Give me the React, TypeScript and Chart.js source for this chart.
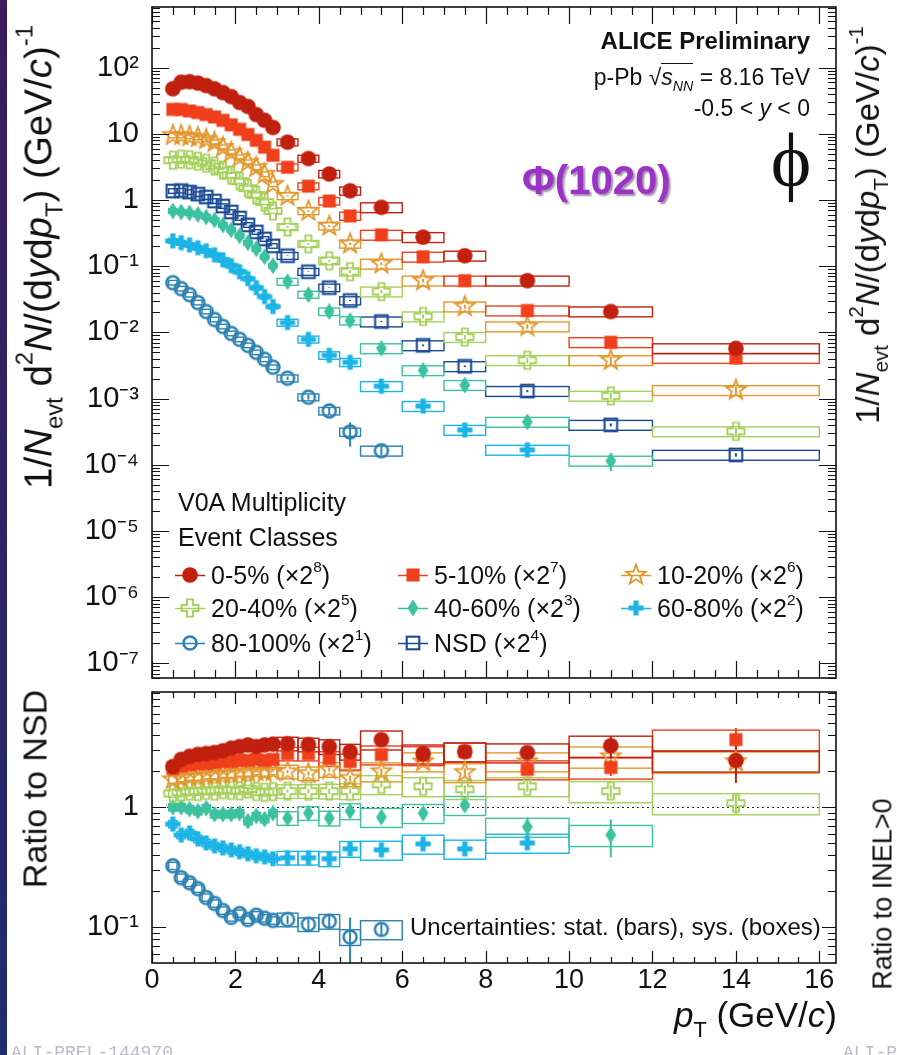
import React, { useEffect, useRef } from "react";
import { Chart, registerables } from "chart.js";

Chart.register(...registerables);

// ---------------- data ----------------
const PT = [0.5, 0.7, 0.9, 1.1, 1.3, 1.5, 1.7, 1.9, 2.1, 2.3, 2.5, 2.7, 2.9, 3.25, 3.75, 4.25, 4.75, 5.5, 6.5, 7.5, 9, 11, 14];
const PT_LO = [0.4, 0.6, 0.8, 1.0, 1.2, 1.4, 1.6, 1.8, 2.0, 2.2, 2.4, 2.6, 2.8, 3.0, 3.5, 4.0, 4.5, 5, 6, 7, 8, 10, 12];
const PT_HI = [0.6, 0.8, 1.0, 1.2, 1.4, 1.6, 1.8, 2.0, 2.2, 2.4, 2.6, 2.8, 3.0, 3.5, 4.0, 4.5, 5.0, 6, 7, 8, 10, 12, 16];

const X_TICKS = [0, 2, 4, 6, 8, 10, 12, 14, 16];
const Y_TICKS_TOP = [1e-7, 1e-6, 1e-5, 1e-4, 1e-3, 1e-2, 1e-1, 1, 10, 100];
const Y_LABELS_TOP = ["10⁻⁷", "10⁻⁶", "10⁻⁵", "10⁻⁴", "10⁻³", "10⁻²", "10⁻¹", "1", "10", "10²"];
const Y_TICKS_RATIO = [0.1, 1];
const Y_LABELS_RATIO = ["10⁻¹", "1"];

const CLASSES = ["0-5%", "5-10%", "10-20%", "20-40%", "40-60%", "60-80%", "80-100%", "NSD"];
const SCALE_POW = ["8", "7", "6", "5", "3", "2", "1", "4"];

// spectra (already multiplied by the scale factors)
const Y_0_5 = [48, 60.5, 61.5, 58.5, 53.6, 48, 42, 36.6, 29.8, 26, 19.6, 16, 12.5, 7.5, 4.24, 2.48, 1.38, 0.776, 0.275, 0.144, 0.0605, 0.0207, 0.00575];
const Y_5_10 = [23.4, 23.4, 22.2, 21, 19.6, 18, 16, 13.7, 11.7, 9.8, 8.0, 6.3, 4.75, 3.13, 1.62, 0.966, 0.575, 0.298, 0.139, 0.0605, 0.0214, 0.0071, 0.0041];
const Y_10_20 = [9.5, 9.5, 9.17, 8.86, 8.27, 7.45, 6.27, 5.27, 4.43, 3.73, 3.13, 2.46, 1.74, 1.15, 0.684, 0.406, 0.218, 0.109, 0.0605, 0.0246, 0.0123, 0.0038, 0.00134];
const Y_20_40 = [4.0, 4.14, 4.06, 3.86, 3.6, 3.25, 2.83, 2.38, 1.93, 1.51, 1.19, 0.933, 0.684, 0.393, 0.218, 0.121, 0.0827, 0.0414, 0.0174, 0.0085, 0.0038, 0.0011, 0.00032];
const Y_40_60 = [0.684, 0.66, 0.638, 0.605, 0.555, 0.5, 0.421, 0.354, 0.288, 0.226, 0.183, 0.139, 0.102, 0.0585, 0.0373, 0.0207, 0.0151, 0.00575, 0.00268, 0.0016, 0.000444, 0.000115, null];
const Y_60_80 = [0.242, 0.226, 0.21, 0.19, 0.171, 0.149, 0.125, 0.102, 0.0827, 0.0649, 0.0475, 0.0348, 0.0246, 0.0141, 0.00785, 0.00451, 0.00354, 0.00154, 0.00077, 0.000336, 0.000168, null, null];
const Y_80_100 = [0.0565, 0.0459, 0.0373, 0.0283, 0.0207, 0.0157, 0.0123, 0.00966, 0.00785, 0.00638, 0.005, 0.00393, 0.00298, 0.00203, 0.00105, 0.00065, 0.000313, 0.000163, null, null, null, null, null];
const Y_NSD = [1.37, 1.39, 1.32, 1.23, 1.11, 0.966, 0.812, 0.66, 0.536, 0.421, 0.33, 0.259, 0.203, 0.144, 0.0827, 0.0475, 0.0303, 0.0146, 0.00638, 0.00308, 0.0013, 0.0004, 0.000141];

// relative statistical uncertainties of the spectra
const ST_0_5 = [0, 0, 0, 0, 0, 0, 0, 0, 0, 0, 0, 0, 0, 0.02, 0.02, 0.03, 0.03, 0.04, 0.05, 0.06, 0.08, 0.1, 0.15];
const ST_5_10 = [0, 0, 0, 0, 0, 0, 0, 0, 0, 0, 0, 0, 0, 0.02, 0.02, 0.03, 0.03, 0.04, 0.05, 0.06, 0.08, 0.12, 0.2];
const ST_10_20 = [0, 0, 0, 0, 0, 0, 0, 0, 0, 0, 0, 0, 0, 0.02, 0.03, 0.03, 0.04, 0.05, 0.06, 0.07, 0.08, 0.12, 0.12];
const ST_20_40 = [0, 0, 0, 0, 0, 0, 0, 0, 0, 0, 0, 0, 0, 0.03, 0.03, 0.04, 0.05, 0.06, 0.07, 0.08, 0.1, 0.12, 0.15];
const ST_40_60 = [0, 0, 0, 0, 0, 0, 0, 0, 0, 0, 0, 0, 0, 0.04, 0.05, 0.06, 0.08, 0.08, 0.1, 0.1, 0.12, 0.3, 0];
const ST_60_80 = [0, 0, 0, 0, 0, 0, 0, 0, 0, 0, 0, 0, 0, 0.05, 0.06, 0.08, 0.1, 0.1, 0.12, 0.12, 0.12, 0, 0];
const ST_80_100 = [0, 0, 0, 0, 0, 0, 0, 0, 0, 0, 0, 0, 0, 0.06, 0.08, 0.12, 0.4, 0.15, 0, 0, 0, 0, 0];
const ST_NSD = [0, 0, 0, 0, 0, 0, 0, 0, 0, 0, 0, 0, 0, 0.01, 0.01, 0.01, 0.02, 0.02, 0.03, 0.03, 0.04, 0.05, 0.06];

// relative systematic uncertainties (boxes)
const SYS_SPECTRA = [0.08, 0.08, 0.08, 0.08, 0.08, 0.08, 0.08, 0.08, 0.08, 0.08, 0.08, 0.08, 0.08, 0.12, 0.12, 0.13, 0.14, 0.17, 0.17, 0.17, 0.17, 0.17, 0.17];
const SYS_RATIO = [0.07, 0.07, 0.07, 0.07, 0.07, 0.07, 0.07, 0.07, 0.07, 0.07, 0.07, 0.07, 0.07, 0.13, 0.13, 0.14, 0.15, 0.18, 0.18, 0.18, 0.18, 0.2, 0.2];

// ratios to NSD
const R_0_5 = [2.18, 2.5, 2.65, 2.75, 2.8, 2.85, 2.95, 3.1, 3.2, 3.3, 3.2, 3.3, 3.35, 3.38, 3.32, 3.19, 2.9, 3.65, 2.79, 2.9, 2.85, 3.25, 2.45];
const R_5_10 = [2.1, 2.2, 2.25, 2.3, 2.3, 2.35, 2.4, 2.4, 2.45, 2.45, 2.5, 2.45, 2.5, 2.79, 2.79, 2.54, 2.4, 2.74, 2.7, 2.9, 2.06, 2.14, 3.65];
const R_10_20 = [1.7, 1.75, 1.8, 1.8, 1.85, 1.85, 1.9, 1.9, 1.95, 1.95, 2.0, 1.95, 2.0, 1.98, 1.91, 2.06, 1.74, 1.98, 2.4, 1.95, 2.4, 2.64, 2.4];
const R_20_40 = [1.3, 1.33, 1.36, 1.35, 1.38, 1.36, 1.4, 1.38, 1.37, 1.42, 1.35, 1.33, 1.35, 1.36, 1.36, 1.36, 1.36, 1.55, 1.49, 1.41, 1.49, 1.36, 1.08];
const R_40_60 = [1.0, 1.0, 0.963, 0.927, 0.981, 0.875, 0.875, 0.875, 0.892, 0.766, 0.843, 0.796, 0.892, 0.811, 0.892, 0.811, 0.927, 0.827, 0.892, 1.04, 0.684, 0.587, null];
const R_60_80 = [0.723, 0.587, 0.61, 0.544, 0.504, 0.476, 0.458, 0.441, 0.425, 0.409, 0.394, 0.386, 0.372, 0.379, 0.379, 0.372, 0.45, 0.441, 0.495, 0.45, 0.504, null, null];
const R_80_100 = [0.325, 0.259, 0.235, 0.21, 0.177, 0.158, 0.138, 0.121, 0.13, 0.116, 0.126, 0.119, 0.114, 0.116, 0.106, 0.112, 0.083, 0.096, null, null, null, null, null];

const RS_0_5 = [0, 0, 0, 0, 0, 0, 0, 0, 0, 0, 0, 0, 0, 0.03, 0.03, 0.04, 0.05, 0.05, 0.06, 0.07, 0.08, 0.2, 0.35];
const RS_5_10 = [0, 0, 0, 0, 0, 0, 0, 0, 0, 0, 0, 0, 0, 0.03, 0.03, 0.04, 0.05, 0.05, 0.06, 0.07, 0.1, 0.15, 0.25];
const RS_10_20 = [0, 0, 0, 0, 0, 0, 0, 0, 0, 0, 0, 0, 0, 0.03, 0.04, 0.04, 0.05, 0.06, 0.07, 0.08, 0.1, 0.15, 0.25];
const RS_20_40 = [0, 0, 0, 0, 0, 0, 0, 0, 0, 0, 0, 0, 0, 0.03, 0.04, 0.05, 0.05, 0.06, 0.07, 0.08, 0.1, 0.12, 0.2];
const RS_40_60 = [0, 0, 0, 0, 0, 0, 0, 0, 0, 0, 0, 0, 0, 0.04, 0.05, 0.06, 0.07, 0.08, 0.09, 0.08, 0.2, 0.35, 0];
const RS_60_80 = [0, 0, 0, 0, 0, 0, 0, 0, 0, 0, 0, 0, 0, 0.05, 0.06, 0.07, 0.08, 0.09, 0.1, 0.1, 0.1, 0, 0];
const RS_80_100 = [0, 0, 0, 0, 0, 0, 0, 0, 0, 0, 0, 0, 0, 0.08, 0.1, 0.12, 0.45, 0.12, 0, 0, 0, 0, 0];

const SPECTRA = [Y_0_5, Y_5_10, Y_10_20, Y_20_40, Y_40_60, Y_60_80, Y_80_100, Y_NSD];
const SPECTRA_STAT = [ST_0_5, ST_5_10, ST_10_20, ST_20_40, ST_40_60, ST_60_80, ST_80_100, ST_NSD];
const RATIOS = [R_0_5, R_5_10, R_10_20, R_20_40, R_40_60, R_60_80, R_80_100];
const RATIOS_STAT = [RS_0_5, RS_5_10, RS_10_20, RS_20_40, RS_40_60, RS_60_80, RS_80_100];

// ---------------- styles / layout ----------------
const COLORS = ["#c1200e", "#ef3f1b", "#e2972c", "#a6d05c", "#3cc2a0", "#1cb4e6", "#2c82b0", "#1b4a95"];
const MARKERS = ["circle", "square", "star", "openCross", "diamond", "plus", "openCircle", "openSquare"];

const X_MIN = 0, X_MAX = 16.4;
const TOP_MIN = 6.17e-8, TOP_MAX = 826;
const RATIO_MIN = 0.0504, RATIO_MAX = 9.1;
const FONT = '"Liberation Sans", Arial, Helvetica, sans-serif';
const LEG_X = [190, 413, 636];
const LEG_Y = [575, 608, 643];

function makeMarker(kind: string, color: string): HTMLCanvasElement {
  const S = 28;
  const c = document.createElement("canvas");
  c.width = S;
  c.height = S;
  const g = c.getContext("2d")!;
  g.translate(S / 2, S / 2);
  g.fillStyle = color;
  g.strokeStyle = color;
  g.lineJoin = "miter";
  const poly = (pts: number[][]) => {
    g.beginPath();
    pts.forEach((p, i) => (i === 0 ? g.moveTo(p[0], p[1]) : g.lineTo(p[0], p[1])));
    g.closePath();
  };
  const plusPts = (a: number, L: number) => [
    [-a, -L], [a, -L], [a, -a], [L, -a], [L, a], [a, a], [a, L], [-a, L], [-a, a], [-L, a], [-L, -a], [-a, -a],
  ];
  if (kind === "circle") {
    g.beginPath(); g.arc(0, 0, 7.8, 0, Math.PI * 2); g.fill();
  } else if (kind === "square") {
    g.fillRect(-6.5, -6.5, 13, 13);
  } else if (kind === "star") {
    const pts: number[][] = [];
    for (let k = 0; k < 10; k++) {
      const r = k % 2 === 0 ? 10.3 : 4.3;
      const a = -Math.PI / 2 + (k * Math.PI) / 5;
      pts.push([r * Math.cos(a), r * Math.sin(a)]);
    }
    poly(pts); g.lineWidth = 1.8; g.stroke();
  } else if (kind === "openCross") {
    poly(plusPts(3, 8.6)); g.lineWidth = 1.9; g.stroke();
  } else if (kind === "diamond") {
    poly([[0, -8.6], [5.4, 0], [0, 8.6], [-5.4, 0]]); g.fill();
  } else if (kind === "plus") {
    poly(plusPts(2.6, 7.6)); g.fill();
  } else if (kind === "openCircle") {
    g.beginPath(); g.arc(0, 0, 6.5, 0, Math.PI * 2); g.lineWidth = 2.5; g.stroke();
  } else if (kind === "openSquare") {
    g.lineWidth = 2.1; g.strokeRect(-6.3, -6.3, 12.6, 12.6);
  }
  return c;
}

function drawUncertainties(chart: any, series: any[], stats: any[], sys: number[]) {
  const { ctx, chartArea: a } = chart;
  const xs = chart.scales.x, ys = chart.scales.y;
  ctx.save();
  ctx.beginPath();
  ctx.rect(a.left, a.top, a.right - a.left, a.bottom - a.top);
  ctx.clip();
  for (let s = series.length - 1; s >= 0; s--) {
    const vals = series[s];
    ctx.strokeStyle = COLORS[s];
    for (let i = 0; i < PT.length; i++) {
      const v = vals[i];
      if (v == null) continue;
      const x1 = xs.getPixelForValue(PT_LO[i]);
      const x2 = xs.getPixelForValue(PT_HI[i]);
      const y1 = ys.getPixelForValue(v * (1 + sys[i]));
      const y2 = ys.getPixelForValue(v * (1 - sys[i]));
      ctx.lineWidth = 1.4;
      ctx.strokeRect(x1, y1, x2 - x1, y2 - y1);
      const st = stats[s][i];
      if (st > 0) {
        const px = xs.getPixelForValue(PT[i]);
        ctx.lineWidth = 2;
        ctx.beginPath();
        ctx.moveTo(px, ys.getPixelForValue(v * (1 + st)));
        ctx.lineTo(px, ys.getPixelForValue(Math.max(v * (1 - st), 1e-12)));
        ctx.stroke();
      }
    }
  }
  ctx.restore();
}

function drawFrame(chart: any, t: { xMaj: number; xMin: number; yMaj: number; yMin: number }) {
  const { ctx, chartArea: a } = chart;
  const xs = chart.scales.x, ys = chart.scales.y;
  ctx.save();
  ctx.strokeStyle = "#111";
  ctx.lineWidth = 1.2;
  ctx.beginPath();
  for (let i = 0; i * 0.5 <= X_MAX + 1e-9; i++) {
    const v = i * 0.5;
    const px = Math.round(xs.getPixelForValue(v)) + 0.5;
    const L = i % 4 === 0 ? t.xMaj : t.xMin;
    ctx.moveTo(px, a.bottom); ctx.lineTo(px, a.bottom - L);
    ctx.moveTo(px, a.top); ctx.lineTo(px, a.top + L);
  }
  const d0 = Math.floor(Math.log10(ys.min)), d1 = Math.ceil(Math.log10(ys.max));
  for (let d = d0; d <= d1; d++) {
    for (let k = 1; k <= 9; k++) {
      const v = k * Math.pow(10, d);
      if (v < ys.min || v > ys.max) continue;
      const py = Math.round(ys.getPixelForValue(v)) + 0.5;
      const L = k === 1 ? t.yMaj : t.yMin;
      ctx.moveTo(a.left, py); ctx.lineTo(a.left + L, py);
      ctx.moveTo(a.right, py); ctx.lineTo(a.right - L, py);
    }
  }
  ctx.stroke();
  ctx.lineWidth = 1.6;
  ctx.strokeRect(a.left, a.top, a.right - a.left, a.bottom - a.top);
  ctx.restore();
}

const Sub = ({ children }: any) => (
  <span style={{ fontSize: "0.62em", position: "relative", top: "0.45em" }}>{children}</span>
);
const Sup = ({ children }: any) => (
  <span style={{ fontSize: "0.62em", position: "relative", top: "-0.8em" }}>{children}</span>
);

const yTitle = (
  <>
    1/<i>N</i><Sub>evt</Sub> d<Sup>2</Sup><i>N</i>/(d<i>y</i>d<i>p</i><Sub>T</Sub>) (GeV/<i>c</i>)<Sup>-1</Sup>
  </>
);

function rotated(cx: number, cy: number, size: number, content: any) {
  return (
    <div
      style={{
        position: "absolute",
        left: cx,
        top: cy,
        transform: "translate(-50%, -50%) rotate(-90deg)",
        whiteSpace: "nowrap",
        fontSize: size,
        lineHeight: `${Math.round(size * 1.15)}px`,
      }}
    >
      {content}
    </div>
  );
}

export default function App() {
  const topRef = useRef<HTMLCanvasElement>(null);
  const ratioRef = useRef<HTMLCanvasElement>(null);

  useEffect(() => {
    const mk = MARKERS.map((m, i) => makeMarker(m, COLORS[i]));

    const yFit = (s: any) => {
      s.width = 152;
      s.paddingTop = 0; s.paddingBottom = 0; s.paddingLeft = 0; s.paddingRight = 0;
    };

    const topDatasets = SPECTRA.map((vals, s) => ({
      label: CLASSES[s],
      data: PT.map((x, i) => ({ x, y: vals[i] })).filter((p) => p.y != null),
      pointStyle: mk[s],
      pointRadius: 6,
      pointHoverRadius: 6,
      showLine: false,
    }));

    const ratioDatasets = RATIOS.map((vals, s) => ({
      label: CLASSES[s],
      data: PT.map((x, i) => ({ x, y: vals[i] })).filter((p) => p.y != null),
      pointStyle: mk[s],
      pointRadius: 6,
      pointHoverRadius: 6,
      showLine: false,
    }));

    const topPlugin = {
      id: "topDecor",
      beforeDatasetsDraw(chart: any) {
        drawUncertainties(chart, SPECTRA, SPECTRA_STAT, SYS_SPECTRA);
      },
      afterDatasetsDraw(chart: any) {
        drawFrame(chart, { xMaj: 17, xMin: 8, yMaj: 17, yMin: 8 });
        const ctx = chart.ctx;
        ctx.save();
        for (let s = 0; s < CLASSES.length; s++) {
          const x = LEG_X[s % 3], y = LEG_Y[Math.floor(s / 3)];
          ctx.strokeStyle = COLORS[s];
          ctx.lineWidth = 1.5;
          ctx.beginPath(); ctx.moveTo(x - 15, y + 0.5); ctx.lineTo(x + 15, y + 0.5); ctx.stroke();
          ctx.drawImage(mk[s], x - mk[s].width / 2, y - mk[s].height / 2);
        }
        ctx.restore();
      },
    };

    const ratioPlugin = {
      id: "ratioDecor",
      beforeDatasetsDraw(chart: any) {
        const { ctx, chartArea: a } = chart;
        const py = Math.round(chart.scales.y.getPixelForValue(1)) + 0.5;
        ctx.save();
        ctx.strokeStyle = "#222";
        ctx.lineWidth = 1.2;
        ctx.setLineDash([2, 3]);
        ctx.beginPath(); ctx.moveTo(a.left, py); ctx.lineTo(a.right, py); ctx.stroke();
        ctx.restore();
        drawUncertainties(chart, RATIOS, RATIOS_STAT, SYS_RATIO);
      },
      afterDatasetsDraw(chart: any) {
        drawFrame(chart, { xMaj: 12, xMin: 6, yMaj: 14, yMin: 8 });
      },
    };

    const top = new Chart(topRef.current!, {
      type: "scatter",
      data: { datasets: topDatasets as any },
      options: {
        responsive: false,
        animation: false,
        devicePixelRatio: 1,
        events: [],
        layout: { padding: { left: 0, top: 7, right: 897 - 836, bottom: 5 } },
        plugins: { legend: { display: false }, tooltip: { enabled: false } },
        scales: {
          x: { type: "linear", min: X_MIN, max: X_MAX, display: false },
          y: {
            type: "logarithmic",
            min: TOP_MIN,
            max: TOP_MAX,
            position: "left",
            grid: { display: false, drawTicks: false, tickLength: 0 },
            border: { display: false },
            ticks: {
              font: { family: FONT, size: 29 },
              color: "#111",
              padding: 13,
              autoSkip: false,
              callback: (_v: any, i: number) => Y_LABELS_TOP[i],
            },
            afterBuildTicks: (s: any) => {
              s.ticks = Y_TICKS_TOP.map((v) => ({ value: v }));
            },
            afterFit: yFit,
          },
        },
      } as any,
      plugins: [topPlugin],
    });

    const ratio = new Chart(ratioRef.current!, {
      type: "scatter",
      data: { datasets: ratioDatasets as any },
      options: {
        responsive: false,
        animation: false,
        devicePixelRatio: 1,
        events: [],
        layout: { padding: { left: 0, top: 5, right: 897 - 836, bottom: 0 } },
        plugins: { legend: { display: false }, tooltip: { enabled: false } },
        scales: {
          x: {
            type: "linear",
            min: X_MIN,
            max: X_MAX,
            position: "bottom",
            grid: { display: false, drawTicks: false, tickLength: 0 },
            border: { display: false },
            ticks: {
              font: { family: FONT, size: 27, lineHeight: 1 },
              color: "#111",
              padding: 4,
              autoSkip: false,
              maxRotation: 0,
              callback: (v: any) => String(v),
            },
            afterBuildTicks: (s: any) => {
              s.ticks = X_TICKS.map((v) => ({ value: v }));
            },
            afterFit: (s: any) => {
              s.height = 92;
              s.paddingLeft = 0; s.paddingRight = 0; s.paddingTop = 0; s.paddingBottom = 0;
            },
          },
          y: {
            type: "logarithmic",
            min: RATIO_MIN,
            max: RATIO_MAX,
            position: "left",
            grid: { display: false, drawTicks: false, tickLength: 0 },
            border: { display: false },
            ticks: {
              font: { family: FONT, size: 29 },
              color: "#111",
              padding: 13,
              autoSkip: false,
              callback: (_v: any, i: number) => Y_LABELS_RATIO[i],
            },
            afterBuildTicks: (s: any) => {
              s.ticks = Y_TICKS_RATIO.map((v) => ({ value: v }));
            },
            afterFit: yFit,
          },
        },
      } as any,
      plugins: [ratioPlugin],
    });

    return () => {
      top.destroy();
      ratio.destroy();
    };
  }, []);

  const legendText = (s: number) => (
    <div
      key={s}
      style={{
        position: "absolute",
        left: LEG_X[s % 3] + 21,
        top: LEG_Y[Math.floor(s / 3)] - 15,
        fontSize: 25,
        lineHeight: "30px",
        whiteSpace: "nowrap",
      }}
    >
      {CLASSES[s]} (×2<Sup>{SCALE_POW[s]}</Sup>)
    </div>
  );

  return (
    <div
      style={{
        position: "absolute",
        left: 0,
        top: 0,
        width: 897,
        height: 1055,
        background: "#ffffff",
        overflow: "hidden",
        fontFamily: FONT,
        color: "#111",
      }}
    >
      <div
        style={{
          position: "absolute",
          left: 0,
          top: 0,
          width: 7,
          height: 1055,
          background: "linear-gradient(to bottom, #3b1c5c, #2d2466 50%, #1f2d70)",
        }}
      />
      <canvas ref={topRef} width={897} height={685} style={{ position: "absolute", left: 0, top: 0 }} />
      <canvas ref={ratioRef} width={897} height={370} style={{ position: "absolute", left: 0, top: 685 }} />

      {/* axis titles */}
      {rotated(41, 257, 38.5, yTitle)}
      {rotated(870, 225, 33, yTitle)}
      {rotated(35, 789, 34, <>Ratio to NSD</>)}
      {rotated(883, 894, 27, <>Ratio to INEL&gt;0</>)}
      <div style={{ position: "absolute", right: 897 - 837, top: 997, fontSize: 35, lineHeight: "35px", whiteSpace: "nowrap" }}>
        <i>p</i>
        <Sub>T</Sub> (GeV/<i>c</i>)
      </div>

      {/* annotations */}
      <div style={{ position: "absolute", right: 87, top: 27, fontSize: 24, fontWeight: "bold", lineHeight: "28px", whiteSpace: "nowrap" }}>
        ALICE Preliminary
      </div>
      <div style={{ position: "absolute", right: 87, top: 63, fontSize: 23, lineHeight: "28px", whiteSpace: "nowrap" }}>
        p-Pb √<span style={{ borderTop: "1.5px solid #111" }}><i>s</i><Sub><i>NN</i></Sub></span> = 8.16 TeV
      </div>
      <div style={{ position: "absolute", right: 87, top: 94, fontSize: 23, lineHeight: "28px", whiteSpace: "nowrap" }}>
        -0.5 &lt; <i>y</i> &lt; 0
      </div>
      <div
        style={{
          position: "absolute",
          left: 751,
          width: 80,
          textAlign: "center",
          top: 120,
          fontSize: 77,
          lineHeight: "80px",
          fontFamily: '"Liberation Serif", "DejaVu Serif", serif',
        }}
      >
        ϕ
      </div>
      <div
        style={{
          position: "absolute",
          left: 522,
          top: 157,
          fontSize: 40,
          lineHeight: "46px",
          fontWeight: "bold",
          color: "#9b33c6",
          textShadow: "2px 2px 2px rgba(40,0,60,0.45)",
          whiteSpace: "nowrap",
        }}
      >
        Φ(1020)
      </div>

      {/* legend */}
      <div style={{ position: "absolute", left: 178, top: 487, fontSize: 25, lineHeight: "30px", whiteSpace: "nowrap" }}>V0A Multiplicity</div>
      <div style={{ position: "absolute", left: 178, top: 522, fontSize: 25, lineHeight: "30px", whiteSpace: "nowrap" }}>Event Classes</div>
      {CLASSES.map((_, s) => legendText(s))}

      <div style={{ position: "absolute", left: 410, top: 913, fontSize: 24, lineHeight: "28px", whiteSpace: "nowrap" }}>
        Uncertainties: stat. (bars), sys. (boxes)
      </div>

      {/* figure ids */}
      <div style={{ position: "absolute", left: 11, top: 1043, fontSize: 18, lineHeight: "20px", color: "#b9bcc8", fontFamily: '"Liberation Mono", monospace' }}>
        ALI-PREL-144970
      </div>
      <div style={{ position: "absolute", left: 843, top: 1043, fontSize: 18, lineHeight: "20px", color: "#b9bcc8", fontFamily: '"Liberation Mono", monospace' }}>
        ALI-P
      </div>
    </div>
  );
}
